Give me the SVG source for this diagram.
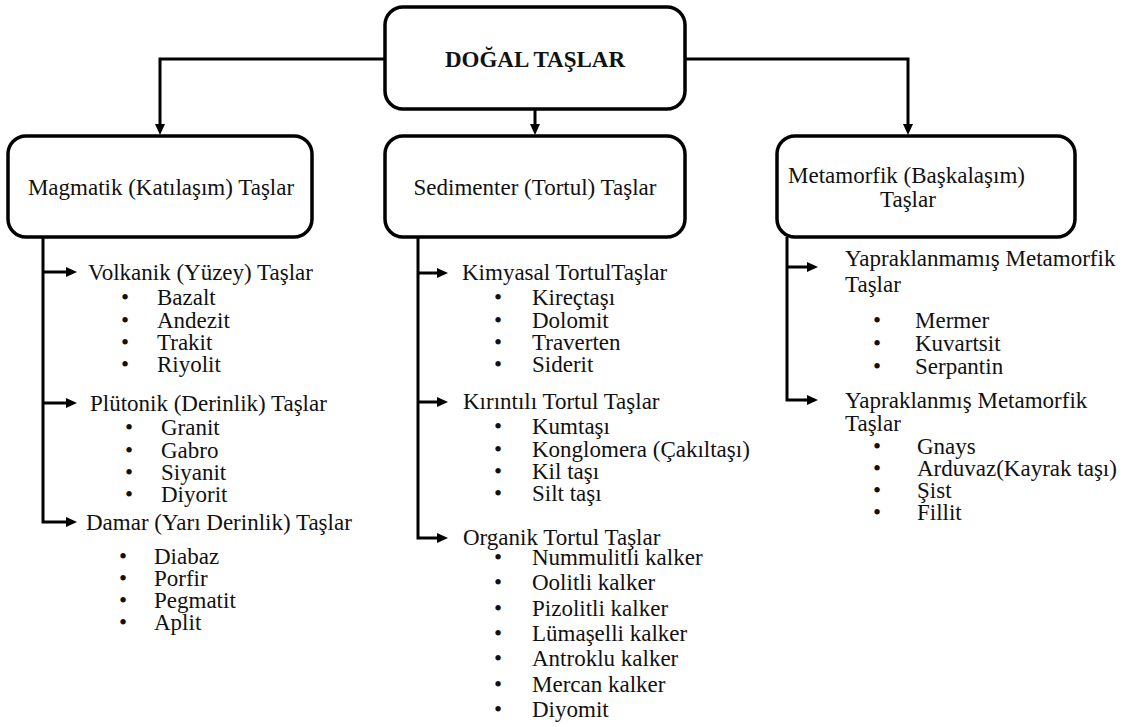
<svg xmlns="http://www.w3.org/2000/svg" width="1132" height="727" viewBox="0 0 1132 727">
<defs>
<marker id="ah" viewBox="0 0 11 10" refX="2" refY="5" markerWidth="11" markerHeight="10" markerUnits="userSpaceOnUse" orient="auto"><path d="M0,0 L11,5 L0,10 z" fill="#000"/></marker>
</defs>
<style>
.box{fill:#fff;stroke:#000;stroke-width:3.5}
.con{fill:none;stroke:#000;stroke-width:3;stroke-linejoin:miter}
text{font-family:"Liberation Serif","Times New Roman",serif;font-size:23px;fill:#111}
.b{font-weight:bold}
.m{text-anchor:middle}
</style>
<rect width="1132" height="727" fill="#fff"/>
<g id="connectors">
<path class="con" d="M385,59 H160 V126" marker-end="url(#ah)"/>
<path class="con" d="M685,59 H908 V126" marker-end="url(#ah)"/>
<path class="con" d="M535,109 V126" marker-end="url(#ah)"/>
<path class="con" d="M43,237 V522 H68" marker-end="url(#ah)"/>
<path class="con" d="M43,272 H68" marker-end="url(#ah)"/>
<path class="con" d="M43,403 H68" marker-end="url(#ah)"/>
<path class="con" d="M418,237 V538 H439" marker-end="url(#ah)"/>
<path class="con" d="M418,273 H439" marker-end="url(#ah)"/>
<path class="con" d="M418,402 H439" marker-end="url(#ah)"/>
<path class="con" d="M787,237 V400 H809" marker-end="url(#ah)"/>
<path class="con" d="M787,267 H809" marker-end="url(#ah)"/>
</g>
<g id="dogal">
<rect class="box" x="385" y="7" width="300" height="102" rx="18"/>
<text class="b m" x="535" y="67">DOĞAL TAŞLAR</text>
</g>
<g id="magmatik">
<rect class="box" x="8" y="136" width="304" height="101" rx="18"/>
<text class="m" x="161" y="195">Magmatik (Katılaşım) Taşlar</text>
</g>
<g id="sedimenter">
<rect class="box" x="385" y="136" width="300" height="101" rx="18"/>
<text class="m" x="535" y="195">Sedimenter (Tortul) Taşlar</text>
</g>
<g id="metamorfik">
<rect class="box" x="777" y="136" width="298" height="101" rx="18"/>
<text x="788" y="183">Metamorfik (Başkalaşım)</text>
<text x="880" y="207">Taşlar</text>
</g>
<g id="volkanik">
<text x="88" y="280">Volkanik (Yüzey) Taşlar</text>
<text class="m" x="125" y="305">•</text><text x="157" y="305">Bazalt</text>
<text class="m" x="125" y="328">•</text><text x="157" y="328">Andezit</text>
<text class="m" x="125" y="350">•</text><text x="157" y="350">Trakit</text>
<text class="m" x="125" y="372">•</text><text x="157" y="372">Riyolit</text>
</g>
<g id="plutonik">
<text x="90" y="411">Plütonik (Derinlik) Taşlar</text>
<text class="m" x="129" y="435">•</text><text x="161" y="435">Granit</text>
<text class="m" x="129" y="458">•</text><text x="161" y="458">Gabro</text>
<text class="m" x="129" y="480">•</text><text x="161" y="480">Siyanit</text>
<text class="m" x="129" y="502">•</text><text x="161" y="502">Diyorit</text>
</g>
<g id="damar">
<text x="86" y="530">Damar (Yarı Derinlik) Taşlar</text>
<text class="m" x="123" y="564">•</text><text x="154" y="564">Diabaz</text>
<text class="m" x="123" y="586">•</text><text x="154" y="586">Porfir</text>
<text class="m" x="123" y="608">•</text><text x="154" y="608">Pegmatit</text>
<text class="m" x="123" y="630">•</text><text x="154" y="630">Aplit</text>
</g>
<g id="kimyasal">
<text x="462" y="280">Kimyasal TortulTaşlar</text>
<text class="m" x="498" y="305">•</text><text x="532" y="305">Kireçtaşı</text>
<text class="m" x="498" y="328">•</text><text x="532" y="328">Dolomit</text>
<text class="m" x="498" y="350">•</text><text x="532" y="350">Traverten</text>
<text class="m" x="498" y="372">•</text><text x="532" y="372">Siderit</text>
</g>
<g id="kirintili">
<text x="463" y="409">Kırıntılı Tortul Taşlar</text>
<text class="m" x="498" y="434">•</text><text x="532" y="434">Kumtaşı</text>
<text class="m" x="498" y="457">•</text><text x="532" y="457">Konglomera (Çakıltaşı)</text>
<text class="m" x="498" y="479">•</text><text x="532" y="479">Kil taşı</text>
<text class="m" x="498" y="501">•</text><text x="532" y="501">Silt taşı</text>
</g>
<g id="organik">
<text x="463" y="545">Organik Tortul Taşlar</text>
<text class="m" x="498" y="565">•</text><text x="532" y="565">Nummulitli kalker</text>
<text class="m" x="498" y="590">•</text><text x="532" y="590">Oolitli kalker</text>
<text class="m" x="498" y="616">•</text><text x="532" y="616">Pizolitli kalker</text>
<text class="m" x="498" y="641">•</text><text x="532" y="641">Lümaşelli kalker</text>
<text class="m" x="498" y="666">•</text><text x="532" y="666">Antroklu kalker</text>
<text class="m" x="498" y="692">•</text><text x="532" y="692">Mercan kalker</text>
<text class="m" x="498" y="717">•</text><text x="532" y="717">Diyomit</text>
</g>
<g id="yapraklanmamis">
<text x="845" y="266">Yapraklanmamış Metamorfik</text>
<text x="845" y="292">Taşlar</text>
<text class="m" x="877" y="328">•</text><text x="915" y="328">Mermer</text>
<text class="m" x="877" y="351">•</text><text x="915" y="351">Kuvartsit</text>
<text class="m" x="877" y="374">•</text><text x="915" y="374">Serpantin</text>
</g>
<g id="yapraklanmis">
<text x="845" y="408">Yapraklanmış Metamorfik</text>
<text x="845" y="431">Taşlar</text>
<text class="m" x="877" y="454">•</text><text x="917" y="454">Gnays</text>
<text class="m" x="877" y="476">•</text><text x="917" y="476">Arduvaz(Kayrak taşı)</text>
<text class="m" x="877" y="498">•</text><text x="917" y="498">Şist</text>
<text class="m" x="877" y="520">•</text><text x="917" y="520">Fillit</text>
</g>
</svg>
